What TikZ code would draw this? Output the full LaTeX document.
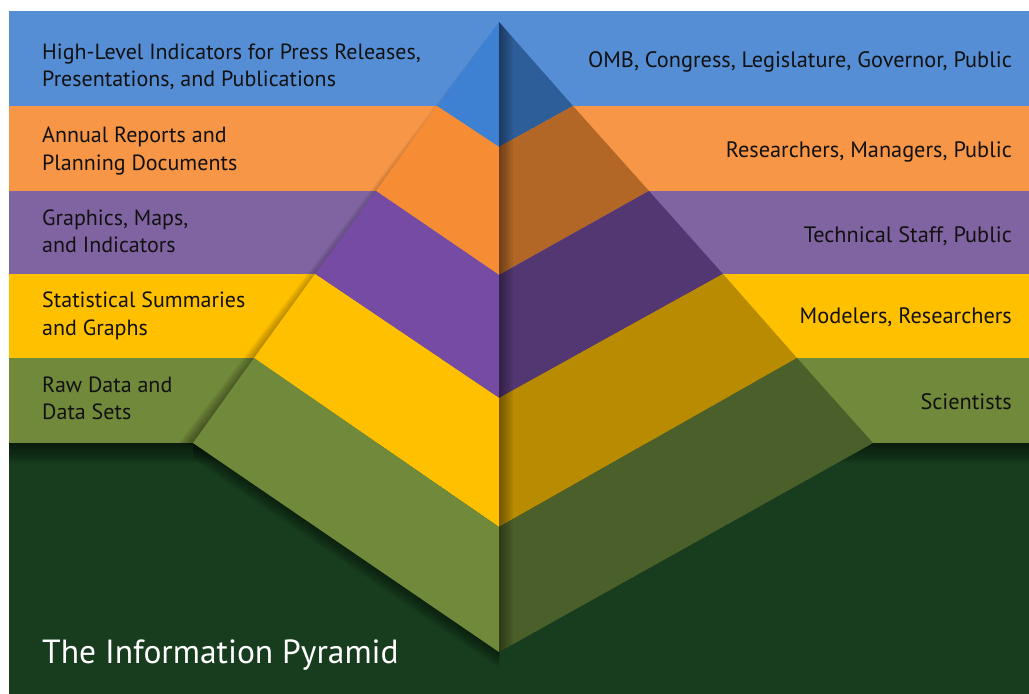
\documentclass[tikz,border=0pt]{standalone}
\usepackage{fontspec}
\setmainfont{PT Sans}
\usepackage{tikz}
\usetikzlibrary{positioning}

\definecolor{bandblue}{RGB}{85,142,213}
\definecolor{bandorange}{RGB}{247,150,70}
\definecolor{bandpurple}{RGB}{128,100,162}
\definecolor{bandyellow}{RGB}{255,192,0}
\definecolor{bandgreen}{RGB}{113,137,58}
\definecolor{faceblueL}{RGB}{62,128,210}
\definecolor{faceblueR}{RGB}{46,94,153}
\definecolor{faceorangeL}{RGB}{246,140,52}
\definecolor{faceorangeR}{RGB}{178,103,39}
\definecolor{facepurpleL}{RGB}{118,75,163}
\definecolor{facepurpleR}{RGB}{82,55,114}
\definecolor{faceyellowL}{RGB}{255,192,0}
\definecolor{faceyellowR}{RGB}{185,139,0}
\definecolor{facegreenL}{RGB}{113,137,58}
\definecolor{facegreenR}{RGB}{75,95,42}
\definecolor{ground}{RGB}{24,60,30}
\definecolor{labeltext}{RGB}{17,17,17}

\begin{document}
\begin{tikzpicture}[x=1pt,y=-1pt]
\tikzstyle{leftlabel}=[anchor=west,align=left,inner sep=0pt,text=labeltext,font=\fontsize{22}{27.5}\selectfont]
\tikzstyle{rightlabel}=[anchor=base east,inner sep=0pt,text=labeltext,font=\fontsize{22.3}{27.5}\selectfont]
\tikzstyle{shadowlayer}=[fill=black,opacity=0.06]

\useasboundingbox (0,0) rectangle (1029,694);

% bands and ground
\fill[ground] (9,443) rectangle (1029,694);
\fill[bandblue] (9,11) rectangle (1029,106);
\fill[bandorange] (9,106) rectangle (1029,191);
\fill[bandpurple] (9,191) rectangle (1029,274);
\fill[bandyellow] (9,274) rectangle (1029,358);
\fill[bandgreen] (9,358) rectangle (1029,443);

% corners of the pyramid
\coordinate (A) at (499,22);
\coordinate (L0) at (A); \coordinate (R0) at (A); \coordinate (C0) at (A);
\coordinate (L1) at (437,106); \coordinate (R1) at (573,106); \coordinate (C1) at (499,147);
\coordinate (L2) at (376,191); \coordinate (R2) at (649,191); \coordinate (C2) at (499,275);
\coordinate (L3) at (315,274); \coordinate (R3) at (723,274); \coordinate (C3) at (499,398);
\coordinate (L4) at (254,358); \coordinate (R4) at (797,358); \coordinate (C4) at (499,527);
\coordinate (L5) at (193,443); \coordinate (R5) at (873,443); \coordinate (C5) at (499,652);

% shadows cast by the pyramid
\foreach \d in {2,4,...,20}
  \fill[shadowlayer] (9,443) rectangle (1029,443+\d);
\foreach \d in {2,4,...,14}
  \fill[shadowlayer] (499,40) -- (193,443) -- (193-\d,443) -- (499-\d,40) -- cycle;
\foreach \d in {2,4,...,16}
  \fill[shadowlayer] (193,443) -- (499,652) -- (499,652+\d) -- (193,443+\d) -- cycle;

% faces
\foreach \i/\lc/\rc in {1/faceblueL/faceblueR,2/faceorangeL/faceorangeR,
  3/facepurpleL/facepurpleR,4/faceyellowL/faceyellowR,5/facegreenL/facegreenR}{
  \pgfmathtruncatemacro\p{\i-1}
  \fill[\lc] (L\p) -- (L\i) -- (C\i) -- (C\p) -- cycle;
  \fill[\rc] (R\p) -- (R\i) -- (C\i) -- (C\p) -- cycle;
}
\begin{scope}
  \clip (A) -- (R5) -- (C5) -- cycle;
  \foreach \d in {2,4,...,14}
    \fill[shadowlayer] (499,22) rectangle (499+\d,652);
\end{scope}

% labels
\node[leftlabel] (press) at (42,67.5) {\strut High-Level Indicators for Press Releases,\\\strut Presentations, and Publications};
\node[leftlabel] (annual) at (42,151) {\strut Annual Reports and\\\strut Planning Documents};
\node[leftlabel] (maps) at (42,233.5) {\strut Graphics, Maps,\\\strut and Indicators};
\node[leftlabel] (summaries) at (42,316) {\strut Statistical Summaries\\\strut and Graphs};
\node[leftlabel] (rawdata) at (42,400.5) {\strut Raw Data and\\\strut Data Sets};

\node[rightlabel] (omb) at (1012,67) {OMB, Congress, Legislature, Governor, Public};
\node[rightlabel] (managers) at (1012,157) {Researchers, Managers, Public};
\node[rightlabel] (staff) at (1012,242) {Technical Staff, Public};
\node[rightlabel] (modelers) at (1012,323) {Modelers, Researchers};
\node[rightlabel] (scientists) at (1012,409) {Scientists};

\node[anchor=base west,inner sep=0pt,text=white,font=\fontsize{33.5}{40}\selectfont] (title) at (42,663) {The Information Pyramid};
\end{tikzpicture}
\end{document}
